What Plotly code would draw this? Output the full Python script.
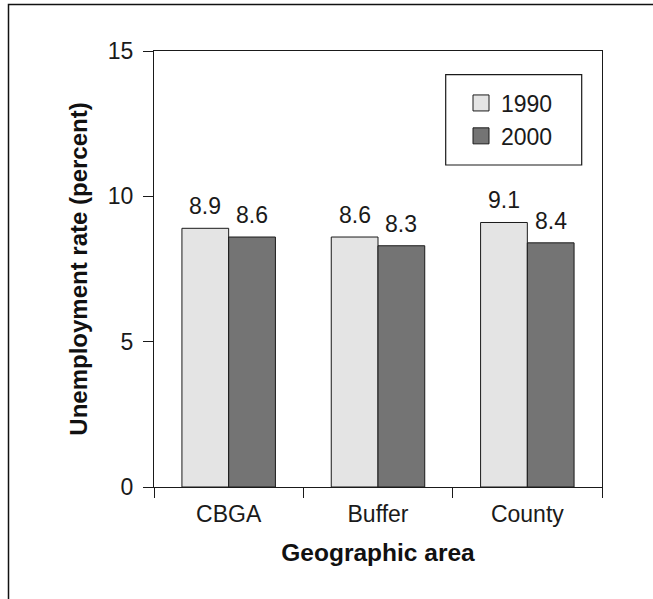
import plotly.graph_objects as go

categories = ["CBGA", "Buffer", "County"]
rate_1990 = [8.9, 8.6, 9.1]
rate_2000 = [8.6, 8.3, 8.4]
series_names = ["1990", "2000"]
y_ticks = [0, 5, 10, 15]

FONT = "Liberation Sans, Arial, sans-serif"
C1990 = "#e4e4e4"
C2000 = "#747474"
LINE = "#1a1a1a"
TXT = "#1a1a1a"

L, R, T, B = 154, 51, 51, 112
W, H = 653, 599
PW, PH = W - L - R, H - T - B


def px_x(x):
    return (x - L) / PW


def px_y(y):
    return (H - B - y) / PH


BARGAP = 0.374
half = (1 - BARGAP) / 4  # centre offset of each bar within a category

fig = go.Figure()
for name, vals, col in [(series_names[0], rate_1990, C1990), (series_names[1], rate_2000, C2000)]:
    fig.add_trace(go.Bar(
        x=categories, y=vals, name=name, showlegend=False,
        marker=dict(color=col, line=dict(color=LINE, width=1)),
        hoverinfo="skip",
    ))
# legend entries (square swatches)
for name, col in [(series_names[0], C1990), (series_names[1], C2000)]:
    fig.add_trace(go.Scatter(
        x=[None], y=[None], mode="markers", name=name,
        marker=dict(symbol="square", size=16, color=col, line=dict(color=LINE, width=1)),
    ))

annotations = []
for i, cat in enumerate(categories):
    for vals, sgn in [(rate_1990, -1), (rate_2000, 1)]:
        annotations.append(dict(
            x=i + sgn * half, y=vals[i], xref="x", yref="y",
            text=f"{vals[i]:.1f}", showarrow=False, yanchor="bottom",
            yshift=7, font=dict(family=FONT, size=23, color=TXT),
        ))

fig.update_layout(
    width=W, height=H,
    margin=dict(l=L, r=R, t=T, b=B),
    paper_bgcolor="white", plot_bgcolor="white",
    barmode="group", bargap=BARGAP, bargroupgap=0,
    font=dict(family=FONT, size=23, color=TXT),
    showlegend=True,
    legend=dict(x=px_x(461), y=px_y(81.5), xanchor="left", yanchor="top",
                bgcolor="rgba(0,0,0,0)", borderwidth=0,
                font=dict(family=FONT, size=23, color=TXT),
                tracegroupgap=0, itemwidth=30),
    annotations=annotations,
    shapes=[
        dict(type="rect", xref="paper", yref="paper",
             x0=px_x(445.7), x1=px_x(581.7),
             y0=px_y(165), y1=px_y(74.7),
             line=dict(color=LINE, width=1.2), fillcolor="rgba(0,0,0,0)"),
        dict(type="rect", xref="paper", yref="paper",
             x0=px_x(8.5), x1=px_x(680),
             y0=px_y(640), y1=px_y(4.5),
             line=dict(color="#111111", width=1.5), fillcolor="rgba(0,0,0,0)"),
    ],
)

fig.update_xaxes(
    showline=True, linecolor=LINE, linewidth=1, mirror=True,
    ticks="outside", ticklen=10, tickcolor=LINE, tickson="boundaries",
    ticklabelstandoff=6,
    showgrid=False, zeroline=False,
    tickfont=dict(family=FONT, size=23, color=TXT),
    title=dict(text="<b>Geographic area</b>", standoff=18,
               font=dict(family=FONT, size=24.5, color="#111111")),
)
fig.update_yaxes(
    range=[0, 15], tickvals=y_ticks, ticktext=[str(t) for t in y_ticks],
    showline=True, linecolor=LINE, linewidth=1, mirror=True,
    ticks="outside", ticklen=10, tickcolor=LINE,
    ticklabelstandoff=5,
    showgrid=False, zeroline=False,
    tickfont=dict(family=FONT, size=23, color=TXT),
    title=dict(text="<b>Unemployment rate (percent)</b>", standoff=13,
               font=dict(family=FONT, size=24, color="#111111")),
)

fig.write_html("out.html", config={"displayModeBar": False},
               post_script="document.body.style.margin='0';")
